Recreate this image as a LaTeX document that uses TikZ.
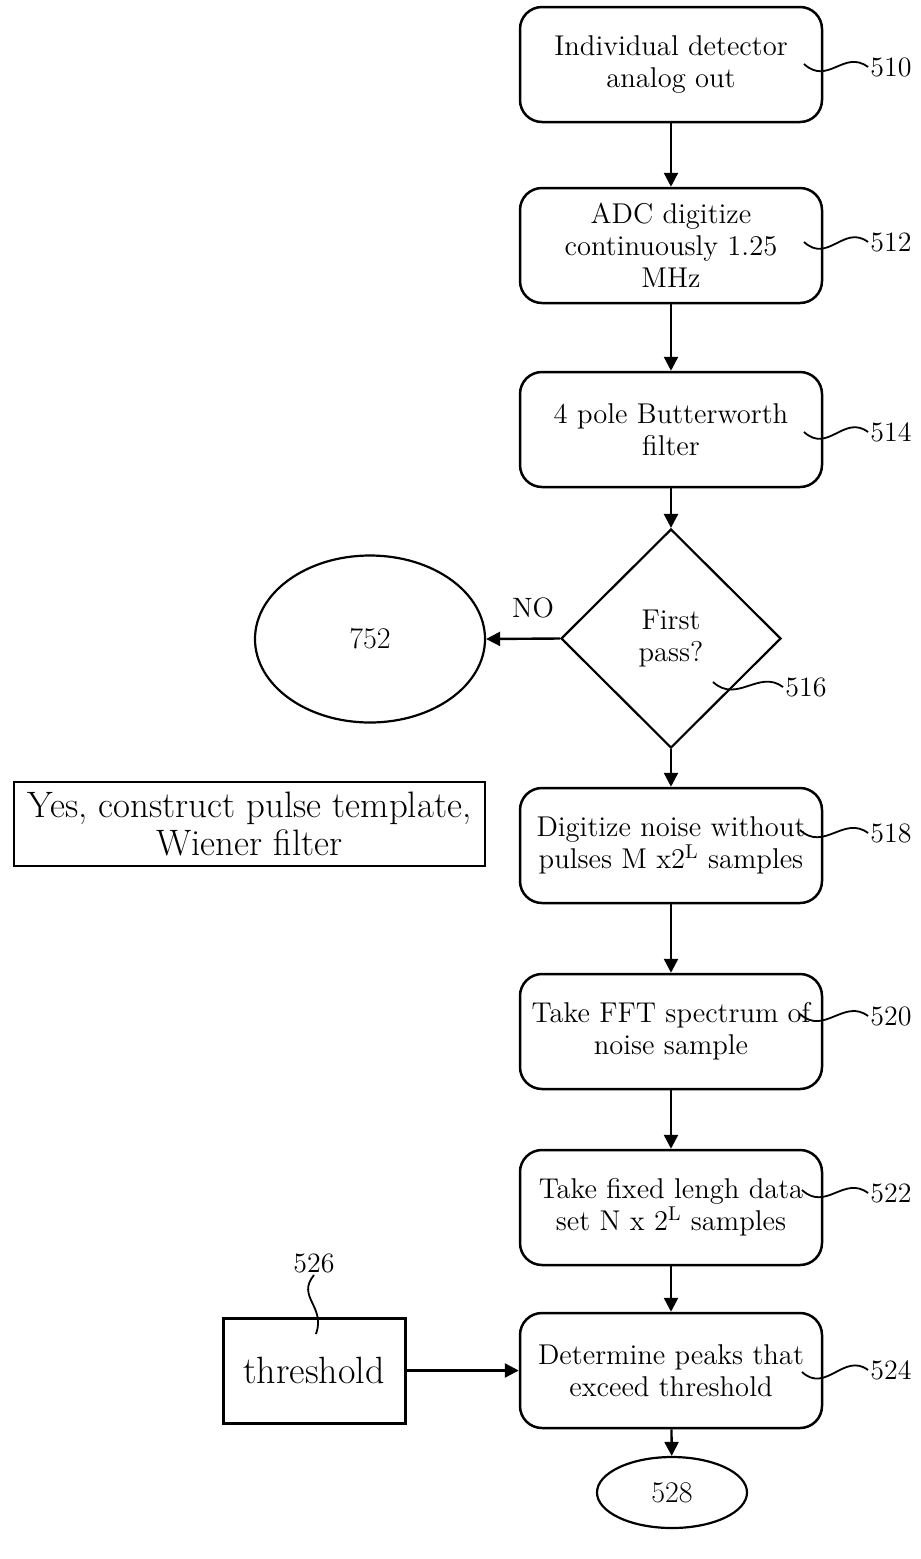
\documentclass[tikz,border=0pt]{standalone}
\usetikzlibrary{arrows.meta,shapes.geometric}
\begin{document}
\begin{tikzpicture}[x=0.5pt,y=-0.5pt,
  stepbox/.style={draw,line width=1.25pt,rounded corners=11pt,minimum width=151pt,minimum height=57.5pt,align=center,inner sep=1pt,font=\fontsize{14.3}{16}\selectfont},
  decision/.style={draw,line width=1.1pt,diamond,minimum width=110pt,minimum height=109.5pt,align=center,inner sep=0pt,font=\fontsize{14.3}{16}\selectfont},
  term/.style={draw,line width=1.1pt,ellipse,inner sep=0pt,font=\fontsize{15}{16}\selectfont},
  plainbox/.style={draw,line width=1.1pt,align=center,inner sep=0pt},
  reflabel/.style={inner sep=1pt,font=\fontsize{14}{16}\selectfont},
  flow/.style={line width=1.2pt,-{Triangle[length=7pt,width=7pt]}},
  leader/.style={line width=0.9pt}]
\useasboundingbox (0,0) rectangle (921,1559);

% main steps
\node[stepbox] (b510) at (671,64.5) {Individual detector\\analog out};
\node[stepbox] (b512) at (671,245.5) {ADC digitize\\continuously 1.25\\MHz};
\node[stepbox] (b514) at (671,429.5) {4 pole Butterworth\\filter};
\node[decision] (d516) at (671,638.5) {First\\pass?};
\node[term,minimum width=115pt,minimum height=83.5pt] (e752) at (370,639) {752};
\node[stepbox] (b518) at (671,845.5) {Digitize noise without\\pulses M x2\textsuperscript{L} samples};
\node[stepbox] (b520) at (671,1031.5) {Take FFT spectrum of\\noise sample};
\node[stepbox] (b522) at (671,1207.5) {Take fixed lengh data\\set N x 2\textsuperscript{L} samples};
\node[stepbox] (b524) at (671,1370.5) {Determine peaks that\\exceed threshold};
\node[term,minimum width=75pt,minimum height=35.5pt] (e528) at (672,1492.5) {528};

% side boxes
\node[plainbox,minimum width=235.5pt,minimum height=42pt,font=\fontsize{18.4}{19}\selectfont] (yes) at (249.5,824) {Yes, construct pulse template,\\Wiener filter};
\node[plainbox,line width=1.5pt,minimum width=91pt,minimum height=52.5pt,font=\fontsize{19}{19}\selectfont] (thr) at (314,1370.5) {threshold};

% NO label
\node[font=\fontsize{14}{16}\selectfont] (no) at (533,608) {NO};

% flow arrows
\draw[flow] (b510) -- (b512);
\draw[flow] (b512) -- (b514);
\draw[flow] (b514) -- (d516);
\draw[flow] (d516.west) -- (e752.east);
\draw[flow] (d516) -- (b518);
\draw[flow] (b518) -- (b520);
\draw[flow] (b520) -- (b522);
\draw[flow] (b522) -- (b524);
\draw[flow] (b524) -- (e528);
\draw[flow] (thr.east) -- (b524.west);

% reference labels
\node[reflabel] (l510) at (891,67) {510};
\node[reflabel] (l512) at (891,242) {512};
\node[reflabel] (l514) at (891,432) {514};
\node[reflabel] (l516) at (806,687) {516};
\node[reflabel] (l518) at (891,833) {518};
\node[reflabel] (l520) at (891,1016) {520};
\node[reflabel] (l522) at (891,1193) {522};
\node[reflabel] (l524) at (891,1370) {524};
\node[reflabel] (l526) at (314,1263) {526};

\coordinate (s510) at (804,64);
\coordinate (s512) at (804,242);
\coordinate (s514) at (804,432);
\coordinate (s516) at (713,682);
\coordinate (s518) at (800,830);
\coordinate (s520) at (800,1014);
\coordinate (s522) at (802,1190);
\coordinate (s524) at (802,1372);
\coordinate (s526) at (316,1334);

\foreach \n in {510,512,514,516,518,520,522,524}{
  \draw[leader] (s\n) .. controls +(24,22) and +(-24,-18) .. (l\n.west);
}
\draw[leader] (l526.south) .. controls +(-18,22) and +(10,-28) .. (s526);
\end{tikzpicture}
\end{document}
